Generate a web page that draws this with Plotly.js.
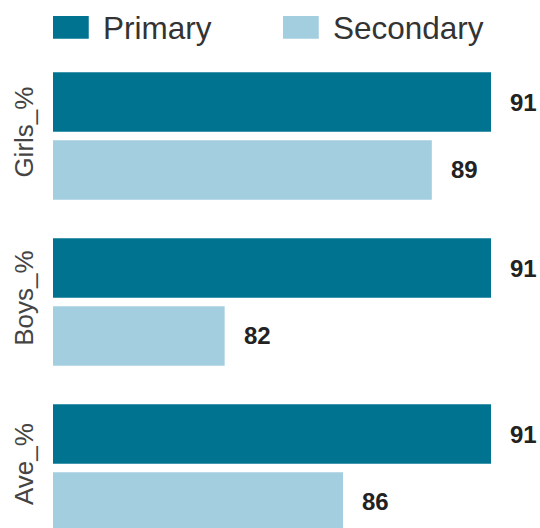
<!DOCTYPE html>
<html>
<head>
<meta charset="utf-8">
<script src="https://cdn.plot.ly/plotly-3.0.1.min.js"></script>
<style>html,body{margin:0;padding:0;background:#fff;}#chart{width:540px;height:528px;}</style>
</head>
<body>
<div id="chart"></div>
<script>
const categories = ["Girls_%", "Boys_%", "Ave_%"];
const seriesNames = ["Primary", "Secondary"];
const primaryValues = [91, 91, 91];
const secondaryValues = [89, 82, 86];
const seriesColors = ["#007391", "#a3cedf"];

const FONT = '"Liberation Sans", Arial, Helvetica, sans-serif';
const bargap = 0.183;
const slot = (1 - bargap) / 2;

const traces = [primaryValues, secondaryValues].map((vals, i) => ({
  type: 'bar',
  orientation: 'h',
  name: seriesNames[i],
  x: vals,
  y: categories,
  marker: {color: seriesColors[i]},
  hoverinfo: 'x+y',
  showlegend: false
}));

const annotations = [];
[primaryValues, secondaryValues].forEach((vals, s) => {
  vals.forEach((v, j) => {
    annotations.push({
      x: v, y: j + (s === 0 ? -slot / 2 : slot / 2),
      xref: 'x', yref: 'y',
      text: String(v),
      showarrow: false,
      xanchor: 'left', yanchor: 'middle',
      xshift: 17,
      font: {family: FONT, size: 24, color: '#222222', weight: 'bold'}
    });
  });
});

// legend drawn as swatches + text
const legendX = [53.3, 283];
const shapes = [];
seriesNames.forEach((n, i) => {
  shapes.push({
    type: 'rect', xref: 'paper', yref: 'paper',
    x0: (legendX[i] - 53.3) / 437.4, x1: (legendX[i] + 35.7 - 53.3) / 437.4,
    y0: 1 + (53 - 38.7) / 475, y1: 1 + (53 - 16) / 475,
    fillcolor: seriesColors[i], line: {width: 0}
  });
  annotations.push({
    xref: 'paper', yref: 'paper',
    x: (legendX[i] + 48 - 53.3) / 437.4, y: 1 + (53 - 27.5) / 475,
    xanchor: 'left', yanchor: 'middle',
    text: n, showarrow: false,
    font: {family: FONT, size: 31.5, color: '#333333'}
  });
});

const layout = {
  width: 540, height: 528,
  margin: {l: 53.3, r: 49.3, t: 53, b: 0, pad: 0},
  paper_bgcolor: '#ffffff', plot_bgcolor: '#ffffff',
  barmode: 'group',
  bargap: bargap,
  bargroupgap: 0.1224,
  showlegend: false,
  xaxis: {range: [76.2, 91], showgrid: false, zeroline: false, showticklabels: false, ticks: '', showline: false, fixedrange: true},
  yaxis: {
    type: 'category',
    categoryorder: 'array', categoryarray: categories,
    range: [2.3614, -0.5],
    showgrid: false, zeroline: false, showline: false, ticks: '',
    tickangle: -90,
    ticklabelstandoff: 14,
    tickfont: {family: FONT, size: 26, color: '#444444'},
    fixedrange: true
  },
  shapes: shapes,
  annotations: annotations
};

Plotly.newPlot('chart', traces, layout, {displayModeBar: false, staticPlot: true});
</script>
</body>
</html>
